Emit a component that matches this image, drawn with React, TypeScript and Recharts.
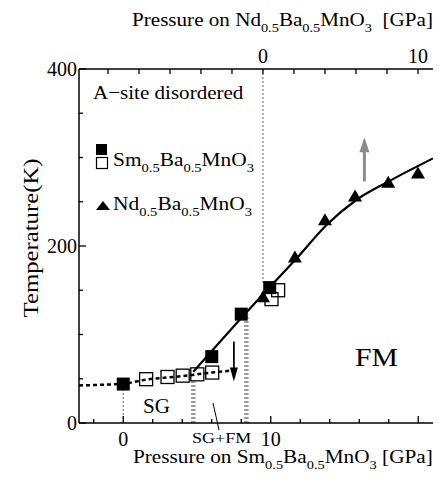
import React, { useLayoutEffect, useRef, useState } from 'react'
import { ComposedChart, XAxis, YAxis, Line, Scatter } from 'recharts'

const FONT = '"Liberation Serif", "DejaVu Serif", serif'

// Sm0.5Ba0.5MnO3 (bottom pressure axis)
const SM_FILLED_P = [0, 6.0, 8.0, 9.93]
const SM_FILLED_T = [44, 75, 123, 153]
const SM_OPEN_P = [1.55, 3.0, 4.03, 5.02, 6.03, 10.05, 10.5]
const SM_OPEN_T = [49.5, 52, 53.5, 55, 57, 140, 150]

// Nd0.5Ba0.5MnO3 (top pressure axis)
const ND_P = [0, 2.06, 4.0, 5.94, 8.08, 10.0]
const ND_T = [142, 187, 229, 256, 271.5, 282]

// guide curves (bottom axis)
const SG_CURVE_P = [-3, 0, 1.55, 3, 4, 5, 6, 7.2]
const SG_CURVE_T = [42.5, 44.5, 49, 51.5, 53, 55, 57, 59]
const FM_CURVE_P = [4.75, 7.0, 9.9, 11.7, 13.8, 15.8, 18.0, 21.0]
const FM_CURVE_T = [58, 100, 153, 185, 224, 252, 273, 299]

// SG / SG+FM / FM boundaries (bottom axis)
const BOUNDARY_P = [4.75, 8.35]
const BOUNDARY_T = [47, 123]

const BOTTOM_TICKS = [-2, 0, 2, 4, 6, 8, 10, 12, 14, 16, 18, 20]
const TOP_TICKS = [-10, -8, -6, -4, -2, 0, 2, 4, 6, 8, 10]
const Y_TICKS = [0, 50, 100, 150, 200, 250, 300, 350, 400]

const zip = (xs: number[], ys: number[]) => xs.map((x, i) => ({ x, y: ys[i] }))

const smFilled = zip(SM_FILLED_P, SM_FILLED_T)
const smOpen = zip(SM_OPEN_P, SM_OPEN_T)
const nd = zip(ND_P, ND_T)
const sgCurve = zip(SG_CURVE_P, SG_CURVE_T)
const fmCurve = zip(FM_CURVE_P, FM_CURVE_T)

const BottomTick = (p: any) => {
  const v = p.payload.value
  const major = v % 10 === 0
  const label = v === 0 || v === 10 ? String(v) : ''
  return (
    <g>
      <line x1={p.x} x2={p.x} y1={p.y} y2={p.y - (major ? 7 : 4)} stroke="#000" strokeWidth={1.3} />
      {label && (
        <text x={p.x} y={p.y + 23} textAnchor="middle" fontSize={20} fontFamily={FONT} fill="#000">{label}</text>
      )}
    </g>
  )
}

const TopTick = (p: any) => {
  const v = p.payload.value
  const label = v === 0 || v === 10 ? String(v) : ''
  return (
    <g>
      <line x1={p.x} x2={p.x} y1={p.y} y2={p.y + 5} stroke="#000" strokeWidth={1.3} />
      {label && (
        <text x={p.x} y={p.y - 6} textAnchor="middle" fontSize={20} fontFamily={FONT} fill="#000">{label}</text>
      )}
    </g>
  )
}

const LeftTick = (p: any) => {
  const v = p.payload.value
  const major = v % 200 === 0
  return (
    <g>
      <line x1={p.x} x2={p.x + (major ? 7 : 4)} y1={p.y} y2={p.y} stroke="#000" strokeWidth={1.3} />
      {major && (
        <text x={p.x - 2} y={p.y + 7} textAnchor="end" fontSize={20} fontFamily={FONT} fill="#000">{v}</text>
      )}
    </g>
  )
}

const RightTick = (p: any) => (
  <line x1={p.x} x2={p.x - 4} y1={p.y} y2={p.y} stroke="#000" strokeWidth={1.3} />
)

const FilledSquare = (p: any) => <rect x={p.cx - 6.5} y={p.cy - 6.5} width={13} height={13} fill="#000" />
const OpenSquare = (p: any) => (
  <rect x={p.cx - 6.5} y={p.cy - 6.5} width={13} height={13} fill="none" stroke="#000" strokeWidth={1.3} />
)
const Triangle = (p: any) => (
  <polygon points={`${p.cx - 7},${p.cy + 5} ${p.cx + 7},${p.cy + 5} ${p.cx},${p.cy - 7}`} fill="#000" />
)
const HeadDown = (p: any) => (
  <polygon points={`${p.cx - 4},${p.cy - 14} ${p.cx + 4},${p.cy - 14} ${p.cx},${p.cy}`} fill="#000" />
)
const HeadUp = (p: any) => (
  <polygon points={`${p.cx - 5},${p.cy + 15} ${p.cx + 5},${p.cy + 15} ${p.cx},${p.cy}`} fill="#8c8c8c" />
)

// text stretched horizontally to a given width (the scanned figure is wider than the font)
function Fit({ x, y, w, size, rotate = 0, anchor = 'start', children }: any) {
  const ref = useRef<SVGTextElement>(null)
  const [sx, setSx] = useState(1)
  useLayoutEffect(() => {
    if (ref.current) {
      const bw = ref.current.getBBox().width
      if (bw > 0) setSx(w / bw)
    }
  }, [w])
  return (
    <g transform={`translate(${x},${y}) rotate(${rotate}) scale(${sx},1)`}>
      <text ref={ref} x={0} y={0} fontSize={size} fontFamily={FONT} fill="#000" textAnchor={anchor}>
        {children}
      </text>
    </g>
  )
}

// parts starting with "_" are subscripts
function chem(parts: string[], size: number) {
  const shift = size * 0.32
  let down = false
  return parts.map((s, i) => {
    const sub = s.startsWith('_')
    let dy = 0
    if (sub && !down) { dy = shift; down = true }
    else if (!sub && down) { dy = -shift; down = false }
    return (
      <tspan key={i} dy={dy} fontSize={sub ? size * 0.68 : size} style={{ whiteSpace: 'pre' }}>
        {sub ? s.slice(1) : s}
      </tspan>
    )
  })
}

export default function App() {
  const ax = { xAxisId: 'bottom', yAxisId: 'left' }
  return (
    <div style={{ position: 'absolute', left: 0, top: 0, width: 439, height: 480, background: '#fff' }}>
      <ComposedChart width={439} height={480} margin={{ top: 39, right: 6, bottom: 27, left: 39 }}>
        <XAxis xAxisId="bottom" type="number" dataKey="x" domain={[-3, 21]} ticks={BOTTOM_TICKS}
          height={30} tickSize={0} tickMargin={0} tickLine={false} tick={BottomTick}
          axisLine={{ stroke: '#000', strokeWidth: 1.5 }} allowDataOverflow interval={0} />
        <XAxis xAxisId="top" orientation="top" type="number" dataKey="x" domain={[-11.87, 10.97]} ticks={TOP_TICKS}
          height={30} tickSize={0} tickMargin={0} tickLine={false} tick={TopTick}
          axisLine={{ stroke: '#000', strokeWidth: 1.5 }} allowDataOverflow interval={0} />
        <YAxis yAxisId="left" type="number" dataKey="y" domain={[0, 400]} ticks={Y_TICKS}
          width={40} tickSize={0} tickMargin={0} tickLine={false} tick={LeftTick}
          axisLine={{ stroke: '#000', strokeWidth: 1.5 }} allowDataOverflow interval={0} />
        <YAxis yAxisId="right" orientation="right" type="number" dataKey="y" domain={[0, 400]} ticks={Y_TICKS}
          width={0} tickSize={0} tickMargin={0} tickLine={false} tick={RightTick}
          axisLine={{ stroke: '#000', strokeWidth: 1.5 }} allowDataOverflow interval={0} />

        {/* thin dotted guides at zero pressure */}
        <Line {...ax} data={[{ x: 0, y: 0 }, { x: 0, y: SM_FILLED_T[0] }]} dataKey="y" type="linear"
          stroke="#666" strokeWidth={1} strokeDasharray="2 2" dot={false} activeDot={false} isAnimationActive={false} />
        <Line xAxisId="top" yAxisId="left" data={[{ x: 0, y: 400 }, { x: 0, y: 158 }]} dataKey="y" type="linear"
          stroke="#666" strokeWidth={1} strokeDasharray="2 2" dot={false} activeDot={false} isAnimationActive={false} />

        {/* phase boundaries */}
        {BOUNDARY_P.map((p, i) => (
          <Line key={i} {...ax} data={[{ x: p, y: 0 }, { x: p, y: BOUNDARY_T[i] }]} dataKey="y" type="linear"
            stroke="#999" strokeWidth={4.5} strokeDasharray="2 2" dot={false} activeDot={false} isAnimationActive={false} />
        ))}

        <Line {...ax} data={sgCurve} dataKey="y" type="monotone" stroke="#000" strokeWidth={2.5}
          strokeDasharray="4 3" dot={false} activeDot={false} isAnimationActive={false} />
        <Line {...ax} data={fmCurve} dataKey="y" type="monotone" stroke="#000" strokeWidth={2.2}
          dot={false} activeDot={false} isAnimationActive={false} />

        {/* arrows */}
        <Line {...ax} data={[{ x: 7.5, y: 92 }, { x: 7.5, y: 55 }]} dataKey="y" type="linear"
          stroke="#000" strokeWidth={1.8} dot={false} activeDot={false} isAnimationActive={false} />
        <Scatter {...ax} data={[{ x: 7.5, y: 47 }]} shape={HeadDown} isAnimationActive={false} />
        <Line {...ax} data={[{ x: 16.35, y: 273 }, { x: 16.35, y: 312 }]} dataKey="y" type="linear"
          stroke="#8c8c8c" strokeWidth={3} dot={false} activeDot={false} isAnimationActive={false} />
        <Scatter {...ax} data={[{ x: 16.35, y: 323 }]} shape={HeadUp} isAnimationActive={false} />

        <Scatter {...ax} data={smOpen} shape={OpenSquare} isAnimationActive={false} />
        <Scatter xAxisId="top" yAxisId="left" data={nd} shape={Triangle} isAnimationActive={false} />
        <Scatter {...ax} data={smFilled} shape={FilledSquare} isAnimationActive={false} />
      </ComposedChart>

      <svg width={439} height={480} style={{ position: 'absolute', left: 0, top: 0, pointerEvents: 'none' }}>
        <Fit x={132} y={26} w={301} size={19}>
          {chem(['Pressure on Nd', '_0.5', 'Ba', '_0.5', 'MnO', '_3', '  [GPa]'], 19)}
        </Fit>
        <Fit x={133} y={463} w={300} size={18}>
          {chem(['Pressure on Sm', '_0.5', 'Ba', '_0.5', 'MnO', '_3', ' [GPa]'], 18)}
        </Fit>
        <Fit x={38} y={238} w={159} size={22} rotate={-90} anchor="middle">Temperature(K)</Fit>

        <Fit x={93} y={99} w={151} size={19}>A−site disordered</Fit>
        <rect x={96} y={144} width={11} height={11} fill="#000" />
        <rect x={96.5} y={157.5} width={11} height={11} fill="none" stroke="#000" strokeWidth={1.2} />
        <Fit x={113} y={166} w={141} size={19}>{chem(['Sm', '_0.5', 'Ba', '_0.5', 'MnO', '_3'], 19)}</Fit>
        <polygon points="96,210 110,210 103,201" fill="#000" />
        <Fit x={113} y={210} w={139} size={19}>{chem(['Nd', '_0.5', 'Ba', '_0.5', 'MnO', '_3'], 19)}</Fit>

        <Fit x={355} y={366} w={43} size={25}>FM</Fit>
        <Fit x={143} y={413} w={27} size={20}>SG</Fit>
        <Fit x={192} y={443} w={60} size={14}>SG+FM</Fit>
        <line x1={213} y1={403} x2={219} y2={430} stroke="#000" strokeWidth={1} />
      </svg>
    </div>
  )
}
